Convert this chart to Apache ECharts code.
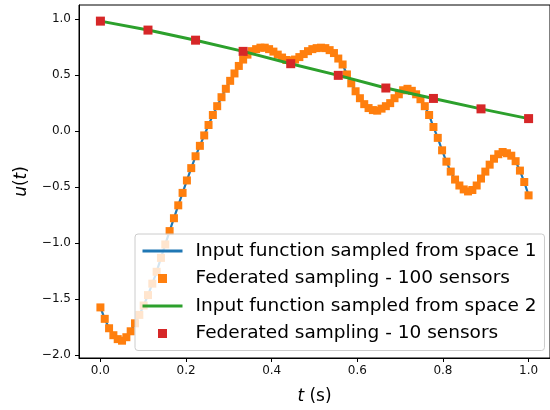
<!DOCTYPE html>
<html><head><meta charset="utf-8">
<script src="https://cdn.jsdelivr.net/npm/echarts@6/dist/echarts.min.js"></script>
<style>html,body{margin:0;padding:0;background:#fff}#c{width:550px;height:410px}</style>
</head><body><div id="c"></div>
<script>
// u(t) at 100 evenly spaced sensors over t in [0, 1] (space 1)
const space1Values = [
  -1.575,-1.677,-1.761,-1.823,-1.858,-1.872,-1.841,-1.788,-1.717,-1.642,
  -1.558,-1.465,-1.363,-1.257,-1.133,-1.013,-0.894,-0.779,-0.664,-0.553,
  -0.442,-0.332,-0.226,-0.133,-0.040, 0.053, 0.142, 0.221, 0.301, 0.376,
   0.447, 0.513, 0.580, 0.637, 0.681, 0.712, 0.730, 0.743, 0.743, 0.730,
   0.708, 0.681, 0.655, 0.633, 0.628, 0.637, 0.659, 0.686, 0.712, 0.730,
   0.739, 0.743, 0.739, 0.721, 0.695, 0.646, 0.593, 0.504, 0.425, 0.354,
   0.292, 0.239, 0.204, 0.186, 0.181, 0.199, 0.221, 0.248, 0.292, 0.327,
   0.363, 0.376, 0.358, 0.327, 0.283, 0.221, 0.142, 0.035,-0.062,-0.173,
  -0.274,-0.363,-0.434,-0.487,-0.522,-0.540,-0.527,-0.487,-0.425,-0.363,
  -0.301,-0.248,-0.208,-0.188,-0.199,-0.221,-0.270,-0.354,-0.456,-0.575
];
// u(t) at 10 evenly spaced sensors over t in [0, 1] (space 2)
const space2Values = [0.980, 0.900, 0.810, 0.710, 0.600, 0.496, 0.383, 0.290, 0.197, 0.110];
const xTicks = [0.0, 0.2, 0.4, 0.6, 0.8, 1.0];
const yTicks = [-2.0, -1.5, -1.0, -0.5, 0.0, 0.5, 1.0];
const seriesNames = [
  'Input function sampled from space 1',
  'Federated sampling - 100 sensors',
  'Input function sampled from space 2',
  'Federated sampling - 10 sensors'
];

const toPairs = arr => arr.map((v, i) => [i / (arr.length - 1), v]);
const s1 = toPairs(space1Values);
const s2 = toPairs(space2Values);
const fmt = v => (v < 0 ? '\u2212' : '') + Math.abs(v).toFixed(1);
const FONT = 'DejaVu Sans';
const SQUARE = 'path://M0,0L10,0L10,10L0,10Z';
const hiddenDot = {color: 'rgba(0,0,0,0)', borderWidth: 0, opacity: 0};

const chart = echarts.init(document.getElementById('c'), null, {renderer: 'canvas'});
chart.setOption({
  animation: false,
  backgroundColor: '#fff',
  grid: {left: 79, top: 5, width: 476, height: 356, show: true, borderColor: '#000', borderWidth: 1, backgroundColor: 'transparent'},
  xAxis: {
    type: 'value', min: -0.05, max: 1.05,
    name: '{i|t} (s)', nameLocation: 'middle', nameGap: 30,
    nameTextStyle: {fontFamily: FONT, fontSize: 17, color: '#000', rich: {i: {fontFamily: FONT, fontStyle: 'italic', fontSize: 17, color: '#000'}}},
    axisLine: {show: true, onZero: false, lineStyle: {color: '#000', width: 1}},
    axisTick: {show: true, inside: false, length: 4, customValues: xTicks, lineStyle: {color: '#000', width: 1}},
    axisLabel: {show: true, customValues: xTicks, margin: 7, formatter: fmt, fontFamily: FONT, fontSize: 12, color: '#111'},
    splitLine: {show: false}
  },
  yAxis: {
    type: 'value', min: -2.0265, max: 1.1239,
    name: '{i|u}({i|t})', nameLocation: 'middle', nameGap: 49, nameRotate: 90,
    nameTextStyle: {fontFamily: FONT, fontSize: 17, color: '#000', rich: {i: {fontFamily: FONT, fontStyle: 'italic', fontSize: 17, color: '#000'}}},
    axisLine: {show: true, onZero: false, lineStyle: {color: '#000', width: 1}},
    axisTick: {show: true, inside: false, length: 4, customValues: yTicks, lineStyle: {color: '#000', width: 1}},
    axisLabel: {show: true, customValues: yTicks, margin: 8, formatter: fmt, fontFamily: FONT, fontSize: 12, color: '#111'},
    splitLine: {show: false}
  },
  legend: {
    left: 135, top: 234, orient: 'vertical',
    padding: [6, 8, 6, 6], itemGap: 5.5,
    itemWidth: 40, itemHeight: 9,
    symbolKeepAspect: true,
    backgroundColor: 'rgba(255,255,255,0.8)', borderColor: '#cccccc', borderWidth: 1, borderRadius: 3,
    textStyle: {fontFamily: FONT, fontSize: 18.5, color: '#000', lineHeight: 22, padding: [0, 0, 0, 8]},
    data: [
      {name: seriesNames[0], itemStyle: hiddenDot, lineStyle: {color: '#1f77b4', width: 3}},
      {name: seriesNames[1], icon: SQUARE, itemStyle: {color: '#ff7f0e'}},
      {name: seriesNames[2], itemStyle: hiddenDot, lineStyle: {color: '#2ca02c', width: 3}},
      {name: seriesNames[3], icon: SQUARE, itemStyle: {color: '#d62728'}}
    ],
    selectedMode: false
  },
  series: [
    {name: seriesNames[0], type: 'line', data: s1, showSymbol: false, symbol: 'none',
     lineStyle: {color: '#1f77b4', width: 2.2}, itemStyle: {color: '#1f77b4'}, z: 2},
    {name: seriesNames[1], type: 'scatter', data: s1, symbol: 'rect', symbolSize: 8,
     itemStyle: {color: '#ff7f0e', opacity: 1}, z: 3},
    {name: seriesNames[2], type: 'line', data: s2, showSymbol: false, symbol: 'none',
     lineStyle: {color: '#2ca02c', width: 3}, itemStyle: {color: '#2ca02c'}, z: 4},
    {name: seriesNames[3], type: 'scatter', data: s2, symbol: 'rect', symbolSize: 9,
     itemStyle: {color: '#d62728', opacity: 1}, z: 5}
  ]
});
</script>
</body></html>
